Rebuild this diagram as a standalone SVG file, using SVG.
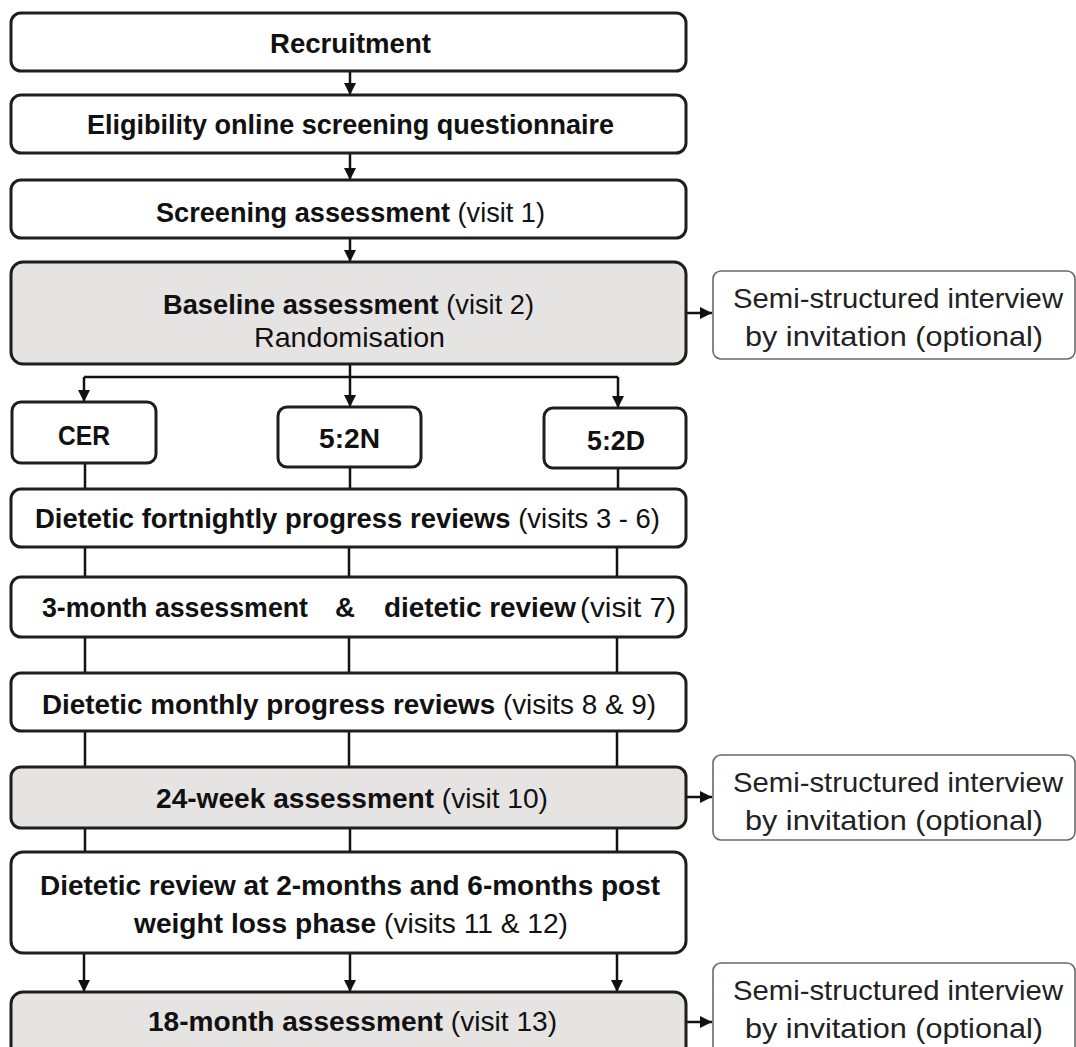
<svg xmlns="http://www.w3.org/2000/svg" width="1076" height="1047" viewBox="0 0 1076 1047">
<style>
.box{fill:#ffffff;stroke:#1e1e1e;stroke-width:3}
.gray{fill:#e6e3e3}
.side{fill:#ffffff;stroke:#6a6a6a;stroke-width:1.6}
text{font-family:"Liberation Sans",Arial,sans-serif;font-size:28px;fill:#111}
.b{font-weight:bold}
.st{font-size:28px;fill:#222}
.c{fill:none;stroke:#111;stroke-width:2.5}
</style>
<defs>
<marker id="ah" viewBox="0 0 10 10" refX="10" refY="5" markerUnits="userSpaceOnUse" markerWidth="12" markerHeight="12" orient="auto">
<path d="M0,0 L10,5 L0,10 z" fill="#111"/>
</marker>
</defs>
<rect width="1076" height="1047" fill="#ffffff"/>

<g id="connectors">
<line class="c" x1="350" y1="71" x2="350" y2="95" marker-end="url(#ah)"/>
<line class="c" x1="350" y1="153" x2="350" y2="180" marker-end="url(#ah)"/>
<line class="c" x1="350" y1="238" x2="350" y2="262" marker-end="url(#ah)"/>
<line class="c" x1="350" y1="364" x2="350" y2="377"/>
<line class="c" x1="84" y1="377" x2="618" y2="377"/>
<line class="c" x1="84" y1="377" x2="84" y2="402" marker-end="url(#ah)"/>
<line class="c" x1="350" y1="377" x2="350" y2="407" marker-end="url(#ah)"/>
<line class="c" x1="618" y1="377" x2="618" y2="408" marker-end="url(#ah)"/>
<line class="c" x1="686" y1="313" x2="712" y2="313" marker-end="url(#ah)"/>
<line class="c" x1="85" y1="463" x2="85" y2="489"/>
<line class="c" x1="350" y1="467" x2="350" y2="489"/>
<line class="c" x1="618" y1="468" x2="618" y2="489"/>
<line class="c" x1="85" y1="547" x2="85" y2="577"/>
<line class="c" x1="349" y1="547" x2="349" y2="577"/>
<line class="c" x1="617" y1="547" x2="617" y2="577"/>
<line class="c" x1="85" y1="637" x2="85" y2="673"/>
<line class="c" x1="349" y1="637" x2="349" y2="673"/>
<line class="c" x1="617" y1="637" x2="617" y2="673"/>
<line class="c" x1="85" y1="731" x2="85" y2="767"/>
<line class="c" x1="349" y1="731" x2="349" y2="767"/>
<line class="c" x1="617" y1="731" x2="617" y2="767"/>
<line class="c" x1="85" y1="828" x2="85" y2="852"/>
<line class="c" x1="350" y1="828" x2="350" y2="852"/>
<line class="c" x1="617" y1="828" x2="617" y2="852"/>
<line class="c" x1="686" y1="797" x2="712" y2="797" marker-end="url(#ah)"/>
<line class="c" x1="84" y1="953" x2="84" y2="992" marker-end="url(#ah)"/>
<line class="c" x1="350" y1="953" x2="350" y2="992" marker-end="url(#ah)"/>
<line class="c" x1="617" y1="953" x2="617" y2="992" marker-end="url(#ah)"/>
<line class="c" x1="686" y1="1022" x2="712" y2="1022" marker-end="url(#ah)"/>
</g>

<g id="recruitment">
<rect class="box" x="11" y="13" width="675" height="58" rx="10"/>
<text class="b" x="270" y="53" textLength="161" lengthAdjust="spacingAndGlyphs">Recruitment</text>
</g>
<g id="eligibility">
<rect class="box" x="11" y="95" width="675" height="58" rx="10"/>
<text class="b" x="87" y="134" textLength="527" lengthAdjust="spacingAndGlyphs">Eligibility online screening questionnaire</text>
</g>
<g id="screening">
<rect class="box" x="11" y="180" width="675" height="58" rx="10"/>
<text x="156" y="222" textLength="389" lengthAdjust="spacingAndGlyphs"><tspan class="b">Screening assessment</tspan> (visit 1)</text>
</g>
<g id="baseline">
<rect class="box gray" x="11" y="262" width="675" height="102" rx="12"/>
<text x="163" y="314" textLength="371" lengthAdjust="spacingAndGlyphs"><tspan class="b">Baseline assessment</tspan> (visit 2)</text>
<text x="254" y="347" textLength="191" lengthAdjust="spacingAndGlyphs">Randomisation</text>
</g>
<g id="interview1">
<rect class="side" x="713" y="271" width="362" height="88" rx="8"/>
<text class="st" x="733" y="308" textLength="330" lengthAdjust="spacingAndGlyphs">Semi-structured interview</text>
<text class="st" x="745" y="346" textLength="298" lengthAdjust="spacingAndGlyphs">by invitation (optional)</text>
</g>
<g id="cer">
<rect class="box" x="12" y="402" width="144" height="61" rx="9"/>
<text class="b" x="58" y="445" textLength="52" lengthAdjust="spacingAndGlyphs">CER</text>
</g>
<g id="n52n">
<rect class="box" x="278" y="407" width="143" height="60" rx="9"/>
<text class="b" x="319" y="448" textLength="61" lengthAdjust="spacingAndGlyphs">5:2N</text>
</g>
<g id="n52d">
<rect class="box" x="544" y="408" width="142" height="60" rx="9"/>
<text class="b" x="587" y="450" textLength="58" lengthAdjust="spacingAndGlyphs">5:2D</text>
</g>
<g id="fortnightly">
<rect class="box" x="11" y="489" width="675" height="58" rx="10"/>
<text x="35" y="528" textLength="625" lengthAdjust="spacingAndGlyphs"><tspan class="b">Dietetic fortnightly progress reviews</tspan> (visits 3 - 6)</text>
</g>
<g id="threemonth">
<rect class="box" x="11" y="577" width="675" height="60" rx="10"/>
<text class="b" x="42" y="617" textLength="266" lengthAdjust="spacingAndGlyphs">3-month assessment</text>
<text class="b" x="335" y="617" textLength="20" lengthAdjust="spacingAndGlyphs">&amp;</text>
<text class="b" x="384" y="617" textLength="192" lengthAdjust="spacingAndGlyphs">dietetic review</text>
<text x="580" y="617" textLength="96" lengthAdjust="spacingAndGlyphs">(visit 7)</text>
</g>
<g id="monthly">
<rect class="box" x="11" y="673" width="675" height="58" rx="10"/>
<text x="42" y="714" textLength="614" lengthAdjust="spacingAndGlyphs"><tspan class="b">Dietetic monthly progress reviews</tspan> (visits 8 &amp; 9)</text>
</g>
<g id="week24">
<rect class="box gray" x="11" y="767" width="675" height="61" rx="10"/>
<text x="156" y="808" textLength="392" lengthAdjust="spacingAndGlyphs"><tspan class="b">24-week assessment</tspan> (visit 10)</text>
</g>
<g id="interview2">
<rect class="side" x="713" y="755" width="362" height="85" rx="8"/>
<text class="st" x="733" y="792" textLength="330" lengthAdjust="spacingAndGlyphs">Semi-structured interview</text>
<text class="st" x="745" y="830" textLength="298" lengthAdjust="spacingAndGlyphs">by invitation (optional)</text>
</g>
<g id="review">
<rect class="box" x="11" y="852" width="675" height="101" rx="12"/>
<text class="b" x="40" y="895" textLength="620" lengthAdjust="spacingAndGlyphs">Dietetic review at 2-months and 6-months post</text>
<text x="134" y="933" textLength="434" lengthAdjust="spacingAndGlyphs"><tspan class="b">weight loss phase</tspan> (visits 11 &amp; 12)</text>
</g>
<g id="month18">
<rect class="box gray" x="11" y="992" width="675" height="70" rx="12"/>
<text x="148" y="1031" textLength="409" lengthAdjust="spacingAndGlyphs"><tspan class="b">18-month assessment</tspan> (visit 13)</text>
</g>
<g id="interview3">
<rect class="side" x="713" y="963" width="362" height="100" rx="8"/>
<text class="st" x="733" y="1000" textLength="330" lengthAdjust="spacingAndGlyphs">Semi-structured interview</text>
<text class="st" x="745" y="1038" textLength="298" lengthAdjust="spacingAndGlyphs">by invitation (optional)</text>
</g>
</svg>
